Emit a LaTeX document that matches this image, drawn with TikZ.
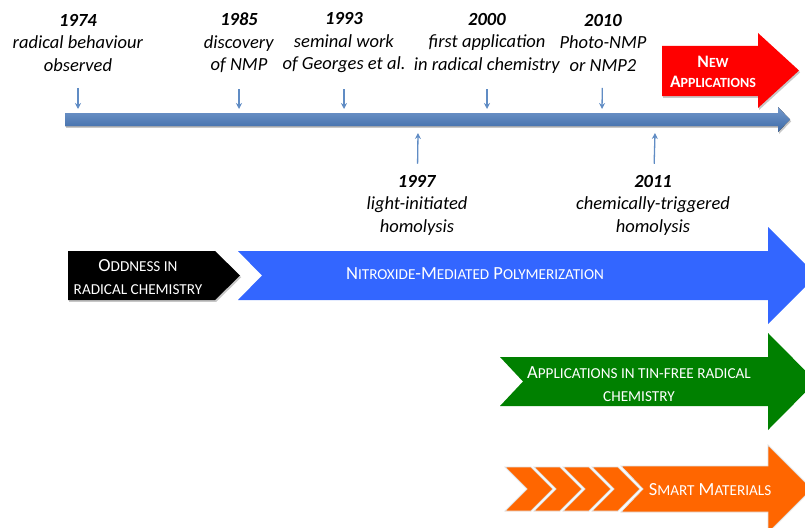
\documentclass[tikz,border=0pt]{standalone}
\usepackage{fontspec}
\setmainfont{Carlito}
\usepackage{tikz}
\usetikzlibrary{arrows.meta}

\definecolor{barblue}{RGB}{68,118,186}
\definecolor{tickblue}{RGB}{96,140,196}
\definecolor{nmpblue}{RGB}{51,102,255}
\definecolor{appgreen}{RGB}{0,128,0}
\definecolor{smartorange}{RGB}{255,102,0}
\definecolor{newred}{RGB}{255,0,0}

% lower-case letters set as small capitals
\newcommand\lc[1]{{\fontsize{\lcs}{\lcs}\selectfont #1}}
% year in bold, then two lines of text
\newcommand\evt[3]{\textbf{\textit{#1}}\\\textit{#2}\\\textit{#3}}

\begin{document}
\begin{tikzpicture}
  [x=1pt,y=-1pt,
   event/.style={align=center,inner sep=2pt,font=\fontsize{18.5}{22.5}\selectfont},
   boxtext/.style={align=center,text=white,inner sep=0pt,font=\fontsize{18.5}{23}\selectfont\def\lcs{15.2}},
   tick/.style={draw=tickblue,line width=1.3pt,shorten <=#1,-{Stealth[length=6pt,width=6pt]}},
   tick/.default=14pt,
   shadowed/.style={preaction={fill=black!22,transform canvas={xshift=1.2pt,yshift=-1.8pt}}}]

  \useasboundingbox (0,0) rectangle (805,527);
  \clip (0,0) rectangle (805,527); % the big arrows run off the right edge

  % time line
  \fill[shadowed,top color=barblue!75!white,bottom color=barblue!90!black]
    (65,113) -- (778,113) -- (778,107) -- (790,119.5) -- (778,132) -- (778,126) -- (65,126) -- cycle;

  \fill[shadowed,newred] (662,46) -- (758,46) -- (758,33) -- (799,70.5) -- (758,108) -- (758,96) -- (662,96) -- cycle;

  % events above and below the line
  \node[event] (y1974) at (78,43)  {\evt{1974}{radical behaviour}{observed}};
  \node[event] (y1985) at (239,43) {\evt{1985}{discovery}{of NMP}};
  \node[event] (y1993) at (344,43) {\evt{1993}{seminal work}{of Georges et al.}};
  \node[event] (y2000) at (487,43) {\evt{2000}{first application}{in radical chemistry}};
  \node[event] (y2010) at (603,43) {\evt{2010}{Photo-NMP}{or NMP2}};
  \node[event] (y1997) at (417,205) {\evt{1997}{light-initiated}{homolysis}};
  \node[event] (y2011) at (653,205) {\evt{2011}{chemically-triggered}{homolysis}};

  \coordinate (d1974) at (78,109);
  \coordinate (d1985) at (239,109);
  \coordinate (d1993) at (344,109);
  \coordinate (d2000) at (487,109);
  \coordinate (d2010) at (602,109);
  \coordinate (u1997) at (418,133);
  \coordinate (u2011) at (655,133);

  \draw[tick] (y1974) -- (d1974);
  \draw[tick] (y1985) -- (d1985);
  \draw[tick] (y1993) -- (d1993);
  \draw[tick] (y2000) -- (d2000);
  \draw[tick] (y2010) -- (d2010);
  \draw[tick=9pt] (y1997) -- (u1997);
  \draw[tick=9pt] (y2011) -- (u2011);

  % big arrows
  \fill[shadowed,black] (68,251) -- (215,251) -- (240,275.5) -- (215,300) -- (68,300) -- cycle;
  \fill[nmpblue] (238,251) -- (768,251) -- (768,227) -- (816.5,275.5) -- (768,324) -- (768,300) -- (238,300) -- (262,275.5) -- cycle;
  \fill[appgreen] (500,357) -- (768,357) -- (768,333) -- (816,381.5) -- (768,430) -- (768,406) -- (500,406) -- (523,381.5) -- cycle;
  \foreach \i in {0,...,3}
    \filldraw[smartorange,draw=black!12,line width=0.8pt,xshift=29*\i]
      (505,467) -- (531,467) -- (553,489) -- (531,511) -- (505,511) -- (527,489) -- cycle;
  \filldraw[smartorange,draw=black!12,line width=0.8pt]
    (621,466) -- (768,466) -- (768,445) -- (812,489) -- (768,533) -- (768,512) -- (621,512) -- (643,489) -- cycle;

  \node[boxtext] (odd) at (138,277.5) {O\lc{DDNESS IN}\\\lc{RADICAL CHEMISTRY}};
  \node[boxtext] (nmp) at (475,274) {N\lc{ITROXIDE}-M\lc{EDIATED} P\lc{OLYMERIZATION}};
  \node[boxtext,font=\fontsize{17.5}{20}\selectfont\def\lcs{14}] (new) at (713,72) {\textbf{N\lc{EW}}\\\textbf{A\lc{PPLICATIONS}}};
  \node[boxtext] (tin) at (639,384.5) {A\lc{PPLICATIONS IN TIN-FREE RADICAL}\\\lc{CHEMISTRY}};
  \node[boxtext] (smart) at (710,490) {S\lc{MART} M\lc{ATERIALS}};

\end{tikzpicture}
\end{document}
